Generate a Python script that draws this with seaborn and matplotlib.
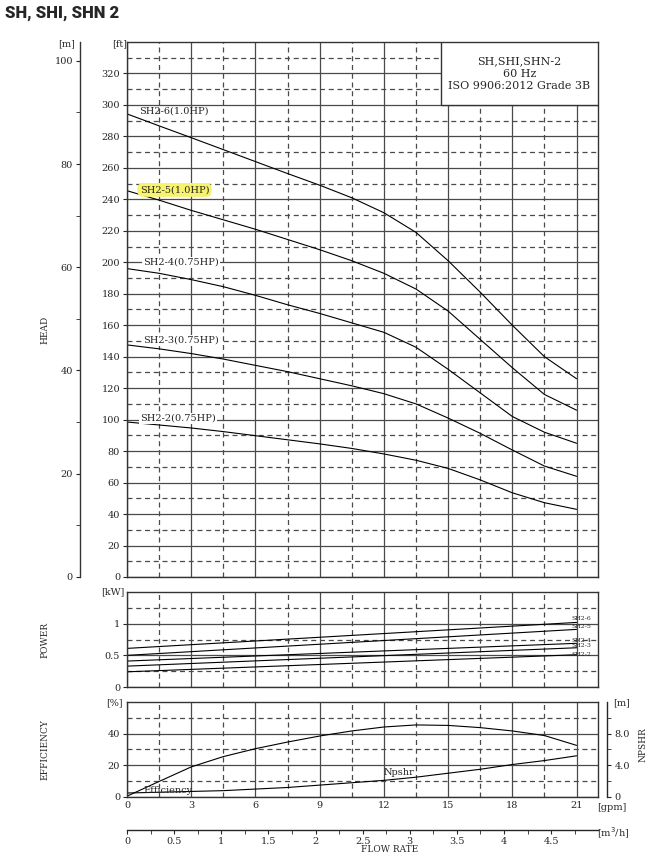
import numpy as np
import pandas as pd
import matplotlib.pyplot as plt
from matplotlib.patches import Rectangle
import seaborn as sns

# flow points (gpm)
gpm = [0, 1.5, 3, 4.5, 6, 7.5, 9, 10.5, 12, 13.5, 15, 16.5, 18, 19.5, 21]

# head curves (ft)
head_sh2_6 = [294.3, 286.7, 279.2, 271.6, 264, 256.4, 249, 241, 231.5, 219, 201, 181, 160, 140, 126]
head_sh2_5 = [245.5, 239.5, 233, 227, 221, 214.5, 208, 201, 193, 183, 169, 151, 133, 116, 106]
head_sh2_4 = [196, 193, 189, 184.5, 179, 173, 167.5, 161.5, 155.5, 146, 132, 117, 102, 92, 85]
head_sh2_3 = [147.5, 145, 142, 138.5, 134.5, 130.5, 126, 121.5, 116.5, 110, 101, 91.3, 80.7, 70.5, 64]
head_sh2_2 = [98.5, 96.6, 94.7, 92.4, 89.8, 87.2, 84.6, 81.7, 78.2, 74.2, 69, 61.7, 53.5, 47.2, 43]
head_labels = ['SH2-6(1.0HP)', 'SH2-5(1.0HP)', 'SH2-4(0.75HP)', 'SH2-3(0.75HP)', 'SH2-2(0.75HP)']

# power (kW), straight lines
power_gpm = [0, 21]
power_sh2_6 = [0.61, 1.02]
power_sh2_5 = [0.50, 0.91]
power_sh2_4 = [0.41, 0.69]
power_sh2_3 = [0.33, 0.62]
power_sh2_2 = [0.24, 0.51]
models = ['SH2-6', 'SH2-5', 'SH2-4', 'SH2-3', 'SH2-2']

# efficiency (%) and npshr (m)
efficiency = [0.5, 9.8, 19, 25.5, 30.5, 34.7, 38.5, 41.7, 44.2, 45.5, 45.2, 43.8, 41.7, 38.8, 32.6]
npshr = [0.5, 0.6, 0.7, 0.8, 1.0, 1.2, 1.5, 1.8, 2.1, 2.5, 3.0, 3.5, 4.1, 4.6, 5.2]

heads = [head_sh2_6, head_sh2_5, head_sh2_4, head_sh2_3, head_sh2_2]
powers = [power_sh2_6, power_sh2_5, power_sh2_4, power_sh2_3, power_sh2_2]

df_head = pd.concat([pd.DataFrame({'model': m, 'gpm': gpm, 'head': h}) for m, h in zip(models, heads)])
df_pow = pd.concat([pd.DataFrame({'model': m, 'gpm': power_gpm, 'kw': p}) for m, p in zip(models, powers)])
df_eff = pd.DataFrame({'gpm': gpm, 'eff': efficiency, 'npshr_pct': np.array(npshr) * 5})

sns.set_style("white")
plt.rcParams['font.family'] = ['DejaVu Serif']
plt.rcParams['axes.linewidth'] = 1.0

GRID = '#4a4a4a'
FS = 7

fig = plt.figure(figsize=(6.67, 8.59), dpi=100)
ax_h = fig.add_axes([0.1904, 0.3283, 0.7061, 0.6228])
ax_p = fig.add_axes([0.1904, 0.2002, 0.7061, 0.1106])
ax_e = fig.add_axes([0.1904, 0.0722, 0.7061, 0.1106])


def setup_grid(ax, ymaj, ymin):
    ax.set_xlim(0, 22)
    ax.set_xticks(np.arange(0, 22, 3))
    ax.set_xticks(np.arange(1.5, 21, 3), minor=True)
    ax.set_yticks(ymaj)
    ax.set_yticks(ymin, minor=True)
    ax.set_axisbelow(True)
    ax.grid(True, which='major', color=GRID, lw=0.9, ls='-')
    ax.grid(True, which='minor', color=GRID, lw=0.9, ls=(0, (4, 3)))
    for s in ax.spines.values():
        s.set_color('#333333')
    ax.tick_params(axis='both', which='major', labelsize=FS, length=3, direction='out', left=True, pad=2)
    ax.tick_params(axis='both', which='minor', length=0)
    ax.set_xlabel('')
    ax.set_ylabel('')


# ---- head ----
sns.lineplot(data=df_head, x='gpm', y='head', units='model', estimator=None,
             color='black', lw=0.8, ax=ax_h)
ax_h.set_ylim(0, 340)
setup_grid(ax_h, np.arange(0, 340, 20), np.arange(10, 340, 20))
ax_h.tick_params(axis='x', which='both', bottom=False, labelbottom=False)

lab_pos = [(0.55, 296), (0.6, 246), (0.75, 200), (0.75, 150.5), (0.6, 101)]
for (x, y), t in zip(lab_pos, head_labels):
    if t.startswith('SH2-5'):
        bb = dict(boxstyle='round,pad=0.25,rounding_size=0.6', fc='#f7f36b', ec='none')
    elif t.startswith('SH2-6'):
        bb = None
    else:
        bb = dict(boxstyle='square,pad=0.1', fc='white', ec='none')
    ax_h.text(x, y, t, fontsize=FS, va='center', ha='left', bbox=bb, zorder=4)

ax_h.add_patch(Rectangle((0.667, 0.882), 0.333, 0.118, transform=ax_h.transAxes,
                         fc='white', ec='#333333', lw=1.0, zorder=3))
ax_h.text(0.8335, 0.941, 'SH,SHI,SHN-2\n60 Hz\nISO 9906:2012 Grade 3B', transform=ax_h.transAxes,
          ha='center', va='center', fontsize=8, linespacing=1.35, zorder=4)

sec_m = ax_h.secondary_yaxis(-0.1, functions=(lambda f: f * 0.3048, lambda m: m / 0.3048))
sec_m.set_yticks(np.arange(0, 101, 20))
sec_m.set_yticks(np.arange(10, 100, 20), minor=True)
sec_m.tick_params(which='major', labelsize=FS, length=3, pad=2)
sec_m.tick_params(which='minor', length=3)
sec_m.spines['left'].set_color('#333333')

fig.text(127 / 667, 1 - 44 / 859, '[ft]', ha='right', va='center', fontsize=FS)
fig.text(75 / 667, 1 - 44 / 859, '[m]', ha='right', va='center', fontsize=FS)
fig.text(45 / 667, 1 - 330 / 859, 'HEAD', rotation=90, ha='center', va='center', fontsize=6.5)

# ---- power ----
sns.lineplot(data=df_pow, x='gpm', y='kw', units='model', estimator=None,
             color='black', lw=0.8, ax=ax_p)
ax_p.set_ylim(0, 1.5)
setup_grid(ax_p, [0, 0.5, 1.0], [0.25, 0.75, 1.25])
ax_p.set_yticklabels(['0', '0.5', '1'])
ax_p.tick_params(axis='x', which='both', bottom=False, labelbottom=False)
for m, y in zip(models, [1.085, 0.958, 0.737, 0.658, 0.516]):
    ax_p.text(20.75, y, m, fontsize=4.5, va='center', ha='left')
fig.text(125 / 667, 1 - 592 / 859, '[kW]', ha='right', va='center', fontsize=FS)
fig.text(45 / 667, 1 - 640 / 859, 'POWER', rotation=90, ha='center', va='center', fontsize=6.5)

# ---- efficiency / npshr ----
sns.lineplot(data=df_eff, x='gpm', y='eff', color='black', lw=0.8, ax=ax_e)
sns.lineplot(data=df_eff, x='gpm', y='npshr_pct', color='black', lw=0.8, ax=ax_e)
ax_e.set_ylim(0, 60)
setup_grid(ax_e, [0, 20, 40], [10, 30, 50])
ax_e.tick_params(axis='x', which='major', length=0, pad=3)
ax_e.text(0.75, 4.2, 'Efficiency', fontsize=FS, va='center', ha='left')
ax_e.text(12.0, 15.5, 'Npshr', fontsize=FS, va='center', ha='left')

sec_n = ax_e.secondary_yaxis(1.02, functions=(lambda e: e / 5, lambda m: m * 5))
sec_n.set_yticks([0, 4, 8])
sec_n.set_yticklabels(['0', '4.0', '8.0'])
sec_n.set_yticks([2, 6, 10], minor=True)
sec_n.tick_params(which='major', labelsize=FS, length=3, pad=2)
sec_n.tick_params(which='minor', length=3)

sec_q = ax_e.secondary_xaxis(-0.347, functions=(lambda g: g * 0.22712, lambda q: q / 0.22712))
sec_q.set_xticks(np.arange(0, 4.6, 0.5))
sec_q.set_xticklabels(['0', '0.5', '1', '1.5', '2', '2.5', '3', '3.5', '4', '4.5'])
sec_q.set_xticks(np.arange(0.25, 5, 0.5), minor=True)
sec_q.tick_params(which='major', labelsize=FS, length=3, pad=2)
sec_q.tick_params(which='minor', length=3)

fig.text(123 / 667, 1 - 703 / 859, '[%]', ha='right', va='center', fontsize=FS)
fig.text(613 / 667, 1 - 703 / 859, '[m]', ha='left', va='center', fontsize=FS)
fig.text(643 / 667, 1 - 745 / 859, 'NPSHR', rotation=90, ha='center', va='center', fontsize=6.5)
fig.text(45 / 667, 1 - 750 / 859, 'EFFICIENCY', rotation=90, ha='center', va='center', fontsize=6.5)
fig.text(597 / 667, 1 - 807 / 859, '[gpm]', ha='left', va='center', fontsize=FS)
fig.text(597 / 667, 1 - 833 / 859, '[m$^3$/h]', ha='left', va='center', fontsize=FS)
fig.text(390 / 667, 1 - 850 / 859, 'FLOW RATE', ha='center', va='center', fontsize=6.5)

fig.text(5 / 667, 1 - 13 / 859, 'SH, SHI, SHN 2', ha='left', va='center', fontsize=12,
         fontweight='heavy', family=['Roboto', 'DejaVu Sans'])

fig.savefig('out.png', dpi=100)
